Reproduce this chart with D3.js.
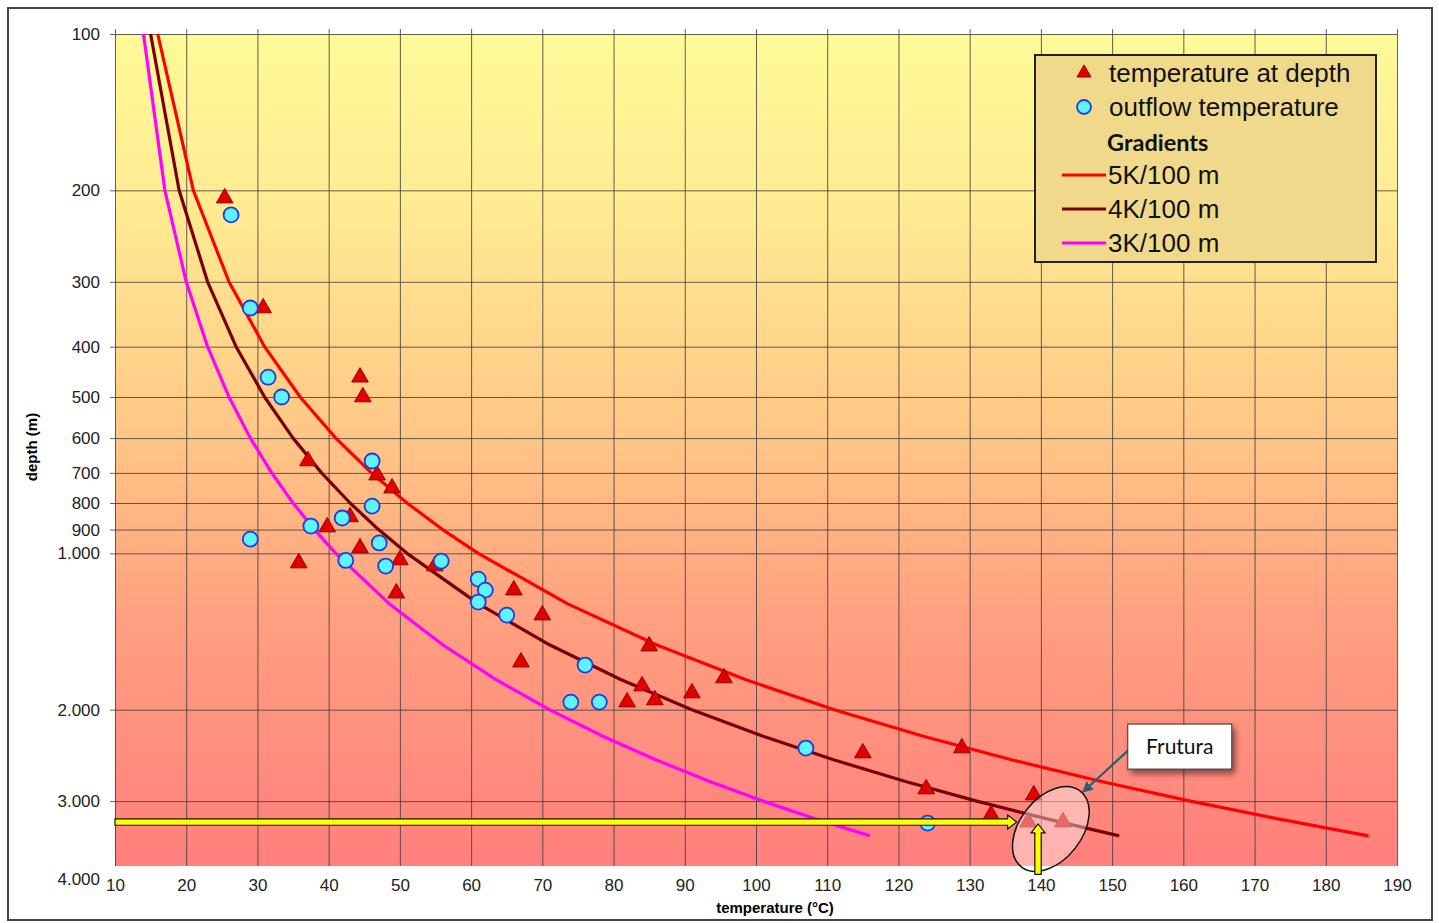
<!DOCTYPE html>
<html>
<head>
<meta charset="utf-8">
<script src="https://cdnjs.cloudflare.com/ajax/libs/d3/7.8.5/d3.min.js"></script>
<style>
  body { margin: 0; background: #fff; }
  svg { display: block; }
  .axis text { font-family: "Liberation Sans", Arial, sans-serif; font-size: 17px; fill: #222; }
  .legend text { font-family: "Liberation Sans", Arial, sans-serif; font-size: 26px; fill: #111; }
</style>
</head>
<body>
<svg id="chart" width="1439" height="923"></svg>
<script>
(function () {
  'use strict';

// tick labels
var xTicks = [10, 20, 30, 40, 50, 60, 70, 80, 90, 100, 110, 120, 130, 140, 150, 160, 170, 180, 190];
var yTicks = [100, 200, 300, 400, 500, 600, 700, 800, 900, 1000, 2000, 3000, 4000];

// gradient lines (depth in m, temperature in °C)
var gradDepths = [100, 200, 300, 400, 500, 600, 700, 800, 900, 1000, 1250, 1500, 1750, 2000, 2250, 2500, 2750, 3000, 3250, 3500];
var grad5 = [16, 21, 26, 31, 36, 41, 46, 51, 56, 61, 73.5, 86, 98.5, 111, 123.5, 136, 148.5, 161, 173.5, 186];
var grad4 = [15, 19, 23, 27, 31, 35, 39, 43, 47, 51, 61, 71, 81, 91, 101, 111, 121, 131, 141, 151];
var grad3 = [14, 17, 20, 23, 26, 29, 32, 35, 38, 41, 48.5, 56, 63.5, 71, 78.5, 86, 93.5, 101, 108.5, 116];

// temperature at depth [T, depth]
var tempAtDepth = [
  [25.4, 207], [30.8, 337], [44.4, 458], [44.8, 500], [37.1, 664], [46.8, 707],
  [48.9, 749], [43.0, 851], [39.8, 890], [44.4, 977], [35.8, 1044], [50.0, 1030],
  [54.9, 1058], [49.5, 1193], [66.0, 1177], [70.0, 1315], [67.0, 1620], [85.0, 1509],
  [84.0, 1801], [85.8, 1916], [81.9, 1934], [91.0, 1858], [95.5, 1738], [115.0, 2424],
  [128.9, 2371], [123.9, 2843], [139.0, 2920], [133.0, 3191], [138.2, 3292], [143.1, 3292]
];

// outflow temperature [T, depth]
var outflowTemp = [
  [26.3, 223], [29.0, 337], [31.5, 458], [33.4, 500], [46.1, 664], [46.1, 811],
  [41.9, 855], [37.5, 886], [29.0, 939], [47.1, 955], [42.4, 1032], [48.0, 1058],
  [55.8, 1035], [61.0, 1121], [62.0, 1177], [61.0, 1241], [65.0, 1315], [76.0, 1641],
  [74.0, 1934], [78.0, 1934], [107.0, 2371], [124.1, 3307]
];

var gradients = [
  {name: "5K/100 m", values: grad5, color: "#ff0000"},
  {name: "4K/100 m", values: grad4, color: "#7a0000"},
  {name: "3K/100 m", values: grad3, color: "#ff00ff"}
];

var svg = d3.select("#chart"),
    left = 115, right = 1397, top = 34, bottom = 866;

var x = d3.scaleLinear().domain([10, 190]).range([left, right]),
    y = d3.scaleLog().domain([100, 4000]).range([top, bottom]);

var fmt = function (d) { return d >= 1000 ? d3.format(",")(d).replace(",", ".") : d; };

var defs = svg.append("defs");
var grad = defs.append("linearGradient").attr("id", "bg")
    .attr("x1", 0).attr("y1", 0).attr("x2", 0).attr("y2", 1);
grad.append("stop").attr("offset", "0%").attr("stop-color", "#fffa98");
grad.append("stop").attr("offset", "22%").attr("stop-color", "#ffea92");
grad.append("stop").attr("offset", "47%").attr("stop-color", "#ffc887");
grad.append("stop").attr("offset", "70%").attr("stop-color", "#ffa080");
grad.append("stop").attr("offset", "100%").attr("stop-color", "#ff7f7d");

var shadow = defs.append("filter").attr("id", "shadow")
    .attr("x", "-20%").attr("y", "-20%").attr("width", "150%").attr("height", "160%");
shadow.append("feDropShadow").attr("dx", 3).attr("dy", 4).attr("stdDeviation", 3)
    .attr("flood-color", "#000").attr("flood-opacity", 0.5);

defs.append("marker").attr("id", "tip")
    .attr("viewBox", "0 0 10 10").attr("refX", 9).attr("refY", 5)
    .attr("markerWidth", 5).attr("markerHeight", 5).attr("orient", "auto")
  .append("path").attr("d", "M0,0L10,5L0,10z").attr("fill", "#2d5f6b");

// outer frame
svg.append("rect")
    .attr("x", 8).attr("y", 8).attr("width", 1424).attr("height", 912)
    .attr("fill", "#fff").attr("stroke", "#444").attr("stroke-width", 2);

// plot background
svg.append("rect")
    .attr("x", left).attr("y", top).attr("width", right - left).attr("height", bottom - top)
    .attr("fill", "url(#bg)");

// grid + tick marks
var gx = svg.append("g")
    .attr("transform", "translate(0," + (top - 5) + ")")
    .call(d3.axisTop(x).tickValues(xTicks).tickSize(-(bottom - top + 5)).tickFormat(""));
gx.select(".domain").remove();
gx.selectAll(".tick line").attr("stroke", "#3a3a3a").attr("stroke-opacity", 0.8);

var gy = svg.append("g")
    .attr("class", "axis")
    .attr("transform", "translate(" + (left - 5) + ",0)")
    .call(d3.axisLeft(y).tickValues(yTicks).tickSize(-(right - left + 5)).tickPadding(10).tickFormat(fmt));
gy.select(".domain").remove();
gy.selectAll(".tick line").attr("stroke", "#3a3a3a").attr("stroke-opacity", 0.8);
gy.selectAll(".tick").filter(function (d) { return d === 4000; })
    .call(function (t) {
      t.select("line").remove();
      t.select("text").attr("dy", "1.1em");
    });

var gxl = svg.append("g")
    .attr("class", "axis")
    .attr("transform", "translate(0," + bottom + ")")
    .call(d3.axisBottom(x).tickValues(xTicks).tickSize(0).tickPadding(13));
gxl.select(".domain").remove();

// axis titles
svg.append("text")
    .attr("transform", "translate(37,447) rotate(-90)")
    .attr("text-anchor", "middle")
    .style("font-family", "Liberation Sans, Arial, sans-serif")
    .style("font-size", "15px").style("font-weight", "bold")
    .text("depth (m)");

svg.append("text")
    .attr("x", 775).attr("y", 913)
    .attr("text-anchor", "middle")
    .style("font-family", "Liberation Sans, Arial, sans-serif")
    .style("font-size", "15px").style("font-weight", "bold")
    .text("temperature (°C)");

// gradient lines
var line = d3.line()
    .x(function (d) { return x(d[0]); })
    .y(function (d) { return y(d[1]); });

svg.append("g").selectAll("path")
    .data(gradients)
  .enter().append("path")
    .attr("fill", "none")
    .attr("stroke", function (d) { return d.color; })
    .attr("stroke-width", 3.2)
    .attr("stroke-linejoin", "round")
    .attr("d", function (d) {
      return line(d.values.map(function (t, i) { return [t, gradDepths[i]]; }));
    });

// markers
var tri = d3.symbol().type(d3.symbolTriangle).size(120);

svg.append("g").selectAll("path")
    .data(tempAtDepth)
  .enter().append("path")
    .attr("d", tri)
    .attr("transform", function (d) { return "translate(" + x(d[0]) + "," + y(d[1]) + ")"; })
    .attr("fill", "#e00000")
    .attr("stroke", "#9a0000")
    .attr("stroke-width", 1);

svg.append("g").selectAll("circle")
    .data(outflowTemp)
  .enter().append("circle")
    .attr("cx", function (d) { return x(d[0]); })
    .attr("cy", function (d) { return y(d[1]); })
    .attr("r", 7.5)
    .attr("fill", "#60f2fc")
    .attr("stroke", "#1c3ddb")
    .attr("stroke-width", 1.8);

// Frutura highlight
var ell = {t: 141.4, depth: 3395};
svg.append("ellipse")
    .attr("transform", "translate(" + x(ell.t) + "," + y(ell.depth) + ") rotate(38)")
    .attr("rx", 31).attr("ry", 48)
    .attr("fill", "#fff").attr("fill-opacity", 0.4)
    .attr("stroke", "#111").attr("stroke-width", 1.5);

function arrow(x0, y0, x1, y1) {
  // block arrow from (x0,y0) to tip (x1,y1)
  var dx = x1 - x0, dy = y1 - y0, len = Math.sqrt(dx * dx + dy * dy),
      ux = dx / len, uy = dy / len, px = -uy, py = ux,
      bw = 3.2, hw = 7, hl = 9,
      bx = x1 - ux * hl, by = y1 - uy * hl;
  var pts = [
    [x0 + px * bw, y0 + py * bw], [bx + px * bw, by + py * bw], [bx + px * hw, by + py * hw],
    [x1, y1],
    [bx - px * hw, by - py * hw], [bx - px * bw, by - py * bw], [x0 - px * bw, y0 - py * bw]
  ];
  svg.append("path")
      .attr("d", "M" + pts.join("L") + "Z")
      .attr("fill", "#ffff00")
      .attr("stroke", "#111")
      .attr("stroke-width", 1.2);
}
arrow(x(10), y(3292), x(136.6), y(3292));
arrow(x(139.6), y(4150), x(139.6), y(3320));

// callout
var note = {t: 159.5, depth: 2361, tipT: 145.9, tipDepth: 2882, text: "Frutura"};
var nx = x(note.t), ny = y(note.depth);
svg.append("line")
    .attr("x1", nx - 48).attr("y1", ny)
    .attr("x2", x(note.tipT)).attr("y2", y(note.tipDepth))
    .attr("stroke", "#2d5f6b").attr("stroke-width", 2.2)
    .attr("marker-end", "url(#tip)");
svg.append("rect")
    .attr("x", nx - 52).attr("y", ny - 23).attr("width", 104).attr("height", 45)
    .attr("fill", "#fff").attr("stroke", "#333").attr("stroke-width", 1)
    .attr("filter", "url(#shadow)");
svg.append("text")
    .attr("x", nx).attr("y", ny + 7)
    .attr("text-anchor", "middle")
    .style("font-family", "Lato, 'Open Sans', sans-serif")
    .style("font-size", "21px").style("fill", "#111")
    .text(note.text);

// legend
var lg = svg.append("g").attr("class", "legend");
lg.append("rect")
    .attr("x", 1035).attr("y", 55).attr("width", 341).attr("height", 207)
    .attr("fill", "#f1d98c").attr("stroke", "#222").attr("stroke-width", 2);

lg.append("path").attr("d", d3.symbol().type(d3.symbolTriangle).size(85))
    .attr("transform", "translate(1084,73)")
    .attr("fill", "#e00000").attr("stroke", "#9a0000");
lg.append("text").attr("x", 1109).attr("y", 82).text("temperature at depth");

lg.append("circle").attr("cx", 1084).attr("cy", 107).attr("r", 7)
    .attr("fill", "#60f2fc").attr("stroke", "#1c3ddb").attr("stroke-width", 1.8);
lg.append("text").attr("x", 1109).attr("y", 116).text("outflow temperature");

lg.append("text").attr("x", 1107).attr("y", 151)
    .style("font-family", "Lato, 'Open Sans', sans-serif")
    .style("font-size", "23.5px").style("font-weight", "bold")
    .text("Gradients");

gradients.forEach(function (g, i) {
  var ly = 175 + i * 34;
  lg.append("line").attr("x1", 1062).attr("x2", 1106).attr("y1", ly).attr("y2", ly)
      .attr("stroke", g.color).attr("stroke-width", 3);
  lg.append("text").attr("x", 1108).attr("y", ly + 9).text(g.name);
});

}());
</script>
</body>
</html>
